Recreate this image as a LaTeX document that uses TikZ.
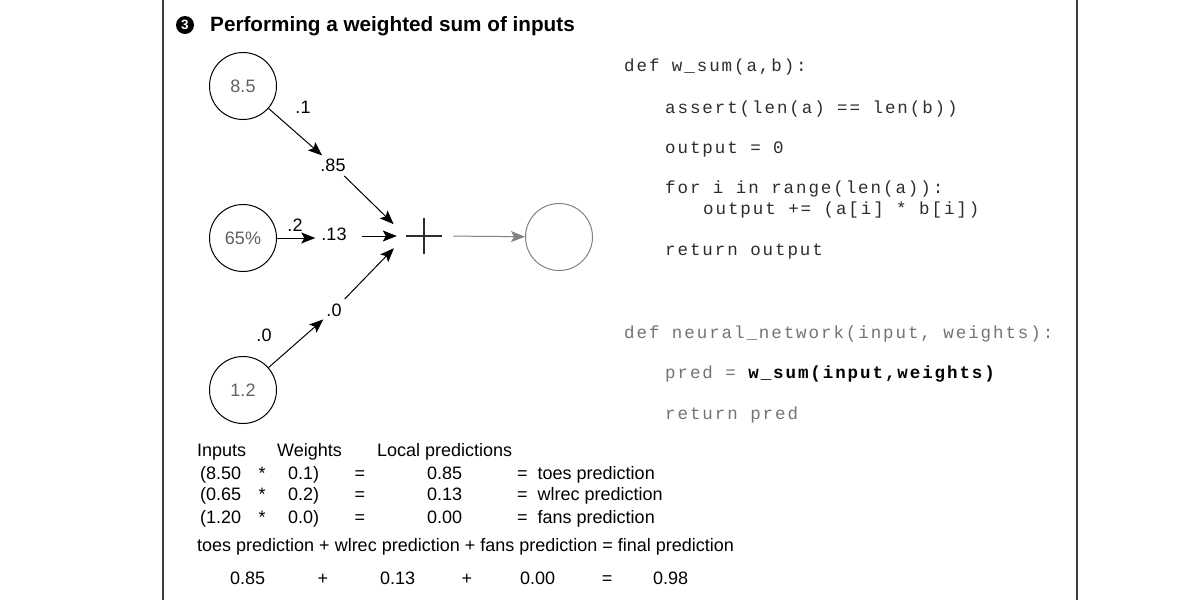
\documentclass[tikz,border=0pt]{standalone}
\usepackage{fontspec}
\setmainfont{Liberation Sans}
\newfontfamily\codefont[LetterSpace=11]{Liberation Mono}
\usetikzlibrary{arrows.meta}
\definecolor{framegray}{RGB}{60,60,60}
\definecolor{codedark}{RGB}{45,45,45}
\definecolor{codelight}{RGB}{115,115,115}
\definecolor{unitgray}{RGB}{95,95,95}
\definecolor{outgray}{RGB}{130,130,130}

\begin{document}
\begin{tikzpicture}[x=1pt,y=-1pt,
  every node/.style={font=\fontsize{18}{21}\selectfont},
  unit/.style={circle,draw,line width=1pt,minimum size=67pt,inner sep=0pt,text=unitgray},
  wlabel/.style={inner sep=3pt},
  feed/.style={-{Stealth[length=14pt,width=11pt,inset=3pt]},line width=1pt},
  code/.style={anchor=base west,inner sep=0pt,font=\codefont\fontsize{17.5}{20}\selectfont},
  cell/.style={anchor=base west,inner sep=0pt}]
\useasboundingbox (0,0) rectangle (1200,600);
\draw[framegray,line width=1.5pt] (163,0) -- (163,600) (1077,0) -- (1077,600);

% title
\node (num) [circle,fill=black,text=white,minimum size=18pt,inner sep=0pt,
  font=\bfseries\fontsize{13.5}{13.5}\selectfont] at (185,25) {3};
\node (title) [anchor=base west,inner sep=0pt,font=\bfseries\fontsize{20.7}{24}\selectfont]
  at (210,31) {Performing a weighted sum of inputs};

% network
\node (toes) [unit] at (243,86) {8.5};
\node (wlrec) [unit] at (243,238) {65\%};
\node (fans) [unit] at (243,390) {1.2};
\node (out) [unit,draw=outgray] at (559,237) {};

\node (lp1) [wlabel] at (333,165) {.85};
\node (lp2) [wlabel] at (334,234) {.13};
\node (lp3) [wlabel] at (334,310) {.0};

\node (w1) at (303,107) {.1};
\node (w2) at (295,225) {.2};
\node (w3) at (264,335) {.0};

\node (sum) [minimum size=36pt,inner sep=0pt] at (424,236) {};
\draw[codedark,line width=1.3pt] (sum.west) -- (sum.east) (sum.north) -- (sum.south);

\draw[feed] (toes) -- (lp1);
\draw[feed,shorten >=3pt] (wlrec.east) -- (lp2.west |- wlrec.east);
\draw[feed] (fans) -- (lp3);
\draw[feed,shorten <=2pt,shorten >=17pt] (lp1) -- (sum.west);
\draw[feed,shorten <=12pt,shorten >=9pt] (lp2.east |- sum.west) -- (sum.west);
\draw[feed,shorten <=2pt,shorten >=17pt] (lp3) -- (sum.west);
\draw[feed,outgray,shorten <=11pt] (sum.east) -- (out);

% code
\node (c1) [code,text=codedark] at (624,71) {def w\_sum(a,b):};
\node (c2) [code,text=codedark] at (665,113) {assert(len(a) == len(b))};
\node (c3) [code,text=codedark] at (665,153) {output = 0};
\node (c4) [code,text=codedark] at (665,193) {for i in range(len(a)):};
\node (c5) [code,text=codedark] at (703,214) {output += (a[i] * b[i])};
\node (c6) [code,text=codedark] at (665,255) {return output};
\node (c7) [code,text=codelight] at (624,338) {def neural\_network(input, weights):};
\node (c8) [code,text=codelight] at (665,378) {pred = \textcolor{black}{\bfseries w\_sum(input,weights)}};
\node (c9) [code,text=codelight] at (665,419) {return pred};

% table
\node (hin) [cell] at (197,456) {Inputs};
\node (hw) [cell] at (277,456) {Weights};
\node (hlp) [cell] at (377,456) {Local predictions};
\foreach \i/\x/\w/\p/\name/\y in {1/8.50/0.1/0.85/toes/479,2/0.65/0.2/0.13/wlrec/500,3/1.20/0.0/0.00/fans/523}{
  \node (x\i) [cell] at (200,\y) {(\x};
  \node (m\i) [cell,anchor=base] at (262,\y) {*};
  \node (v\i) [cell] at (288,\y) {\w)};
  \node (e\i) [cell,anchor=base] at (360,\y) {=};
  \node (l\i) [cell] at (427,\y) {\p};
  \node (n\i) [cell] at (517,\y) {=\ \ \name{} prediction};
}
\node (total) [cell] at (197,551) {toes prediction + wlrec prediction + fans prediction = final prediction};
\node (s1) [cell] at (230,584) {0.85};
\node (s2) [cell,anchor=base] at (323,584) {+};
\node (s3) [cell] at (380,584) {0.13};
\node (s4) [cell,anchor=base] at (467,584) {+};
\node (s5) [cell] at (520,584) {0.00};
\node (s6) [cell,anchor=base] at (607,584) {=};
\node (s7) [cell] at (653,584) {0.98};
\end{tikzpicture}
\end{document}
